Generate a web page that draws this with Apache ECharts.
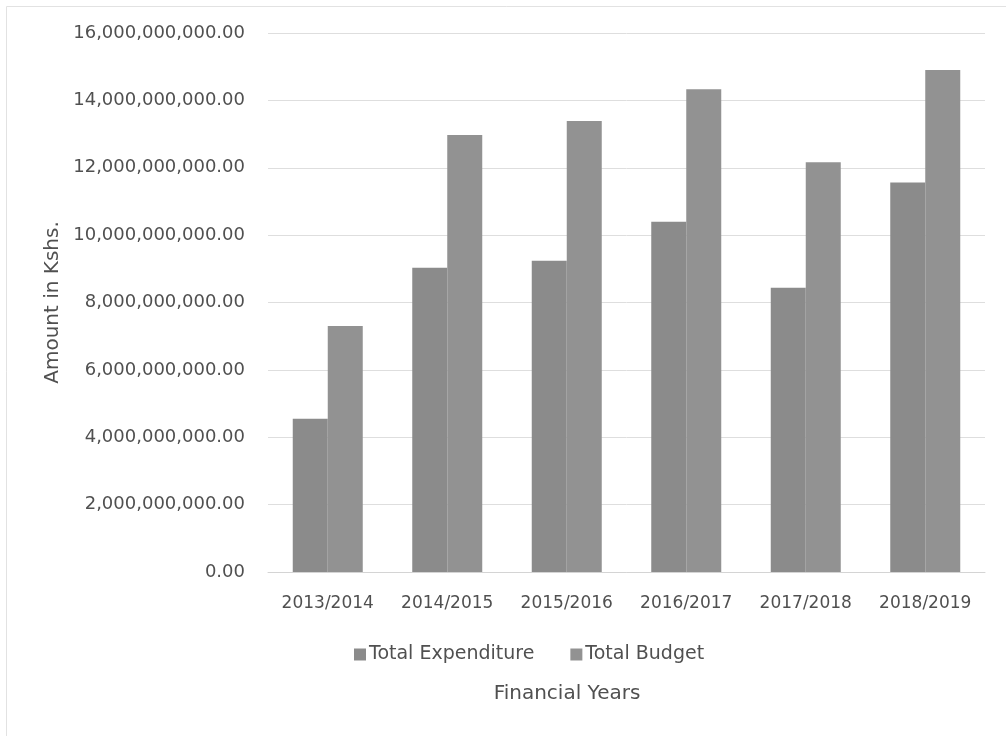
<!DOCTYPE html>
<html>
<head>
<meta charset="utf-8">
<script src="https://cdn.jsdelivr.net/npm/echarts@6/dist/echarts.min.js"></script>
<style>
  html, body { margin: 0; padding: 0; background: #ffffff; }
  #chart { width: 1006px; height: 736px; }
</style>
</head>
<body>
<div id="chart"></div>
<script>
// Financial years on the category axis
const years = ['2013/2014', '2014/2015', '2015/2016', '2016/2017', '2017/2018', '2018/2019'];
// Amounts in Kenyan shillings
const totalExpenditure = [4550000000, 9030000000, 9240000000, 10400000000, 8440000000, 11560000000];
const totalBudget = [7300000000, 12970000000, 13390000000, 14330000000, 12160000000, 14900000000];
// Value axis range and step
const yMin = 0;
const yMax = 16000000000;
const yStep = 2000000000;

const textColor = '#505050';
const fontFamily = 'DejaVu Sans';

function money(v) {
  return Number(v).toLocaleString('en-US', { minimumFractionDigits: 2, maximumFractionDigits: 2 });
}

const chart = echarts.init(document.getElementById('chart'), null, { renderer: 'canvas' });

chart.setOption({
  backgroundColor: '#ffffff',
  animation: false,
  textStyle: { fontFamily: fontFamily, color: textColor },
  grid: { left: 268, right: 21, top: 33, bottom: 164, containLabel: false },
  legend: {
    left: 349,
    top: 640,
    itemWidth: 12,
    itemHeight: 12,
    itemGap: 36,
    icon: 'rect',
    textStyle: { fontFamily: fontFamily, fontSize: 19, color: textColor, padding: [0, 0, 0, -2] },
    data: ['Total Expenditure', 'Total Budget']
  },
  xAxis: {
    type: 'category',
    data: years,
    axisLine: { show: true, lineStyle: { color: '#d4d4d4', width: 1 } },
    axisTick: { show: false },
    axisLabel: { fontFamily: fontFamily, fontSize: 17, color: textColor, margin: 23, interval: 0 }
  },
  yAxis: {
    type: 'value',
    min: yMin,
    max: yMax,
    interval: yStep,
    name: 'Amount in Kshs.',
    nameLocation: 'middle',
    nameGap: 205,
    nameRotate: 90,
    nameTextStyle: { fontFamily: fontFamily, fontSize: 20, color: textColor },
    axisLine: { show: false },
    axisTick: { show: false },
    axisLabel: { fontFamily: fontFamily, fontSize: 18, color: textColor, margin: 23, formatter: money },
    splitLine: { show: true, lineStyle: { color: '#dedede', width: 1 } }
  },
  graphic: [
    {
      type: 'rect',
      silent: true,
      shape: { x: 6.5, y: 6.5, width: 1010, height: 740 },
      style: { fill: 'none', stroke: '#e2e2e2', lineWidth: 1 }
    },
    {
      type: 'text',
      silent: true,
      x: 567,
      y: 694,
      style: {
        text: 'Financial Years',
        fontFamily: fontFamily,
        fontSize: 20,
        fill: textColor,
        align: 'center',
        verticalAlign: 'middle'
      }
    }
  ],
  series: [
    {
      name: 'Total Expenditure',
      type: 'bar',
      data: totalExpenditure,
      barWidth: 35,
      barGap: '0%',
      itemStyle: { color: '#8b8b8b' }
    },
    {
      name: 'Total Budget',
      type: 'bar',
      data: totalBudget,
      barWidth: 35,
      itemStyle: { color: '#929292' }
    }
  ]
});
</script>
</body>
</html>
